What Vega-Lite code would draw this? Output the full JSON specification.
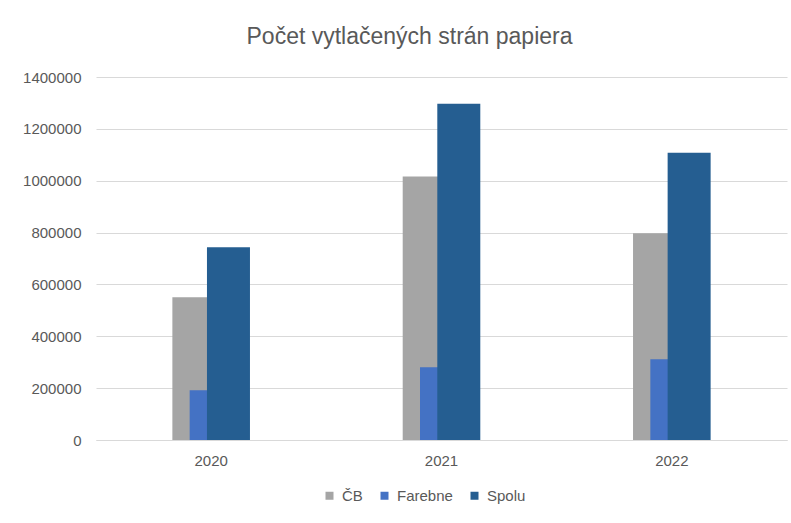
{
  "$schema": "https://vega.github.io/schema/vega-lite/v6.json",
  "width": 691,
  "height": 363,
  "autosize": {"type": "none"},
  "padding": {"left": 96, "top": 77, "right": 4, "bottom": 83},
  "background": "white",
  "config": {
    "view": {"stroke": null},
    "font": "Liberation Sans",
    "axis": {"labelColor": "#595959", "labelFontSize": 15, "titleFontSize": 0}
  },
  "title": {
    "text": "Počet vytlačených strán papiera",
    "anchor": "middle",
    "fontSize": 23,
    "fontWeight": "normal",
    "color": "#595959",
    "baseline": "alphabetic",
    "offset": 3,
    "dx": -32
  },
  "data": {
    "values": [
      {"rok": "2020", "séria": "ČB", "hodnota": 551000},
      {"rok": "2020", "séria": "Farebne", "hodnota": 192000},
      {"rok": "2020", "séria": "Spolu", "hodnota": 743000},
      {"rok": "2021", "séria": "ČB", "hodnota": 1016000},
      {"rok": "2021", "séria": "Farebne", "hodnota": 281000},
      {"rok": "2021", "séria": "Spolu", "hodnota": 1297000},
      {"rok": "2022", "séria": "ČB", "hodnota": 797000},
      {"rok": "2022", "séria": "Farebne", "hodnota": 311000},
      {"rok": "2022", "séria": "Spolu", "hodnota": 1108000}
    ]
  },
  "encoding": {
    "x": {
      "field": "rok", "type": "ordinal", "title": null,
      "scale": {"paddingInner": 0, "paddingOuter": 0},
      "axis": {"labelAngle": 0, "ticks": false, "domainColor": "#d9d9d9", "domainWidth": 1, "labelPadding": 13, "grid": false}
    },
    "y": {
      "field": "hodnota", "type": "quantitative", "title": null,
      "scale": {"domain": [0, 1400000]},
      "axis": {"values": [0, 200000, 400000, 600000, 800000, 1000000, 1200000, 1400000], "format": "d", "domain": false, "ticks": false, "labelPadding": 15, "gridColor": "#d9d9d9", "gridWidth": 1}
    },
    "color": {
      "field": "séria", "type": "nominal", "title": null,
      "scale": {"domain": ["ČB", "Farebne", "Spolu"], "range": ["#A5A5A5", "#4472C4", "#255E91"]},
      "legend": {
        "orient": "none", "direction": "horizontal", "legendX": 226, "legendY": 411,
        "symbolType": "square", "symbolSize": 64, "symbolStrokeWidth": 0,
        "labelFontSize": 15, "labelColor": "#595959", "labelOffset": 5, "columnPadding": 14
      }
    }
  },
  "layer": [
    {"transform": [{"filter": "datum['séria'] === 'ČB'"}], "mark": {"type": "bar", "width": 43, "xOffset": -17.3}},
    {"transform": [{"filter": "datum['séria'] === 'Farebne'"}], "mark": {"type": "bar", "width": 43, "xOffset": 0}},
    {"transform": [{"filter": "datum['séria'] === 'Spolu'"}], "mark": {"type": "bar", "width": 43, "xOffset": 17.3}}
  ]
}
